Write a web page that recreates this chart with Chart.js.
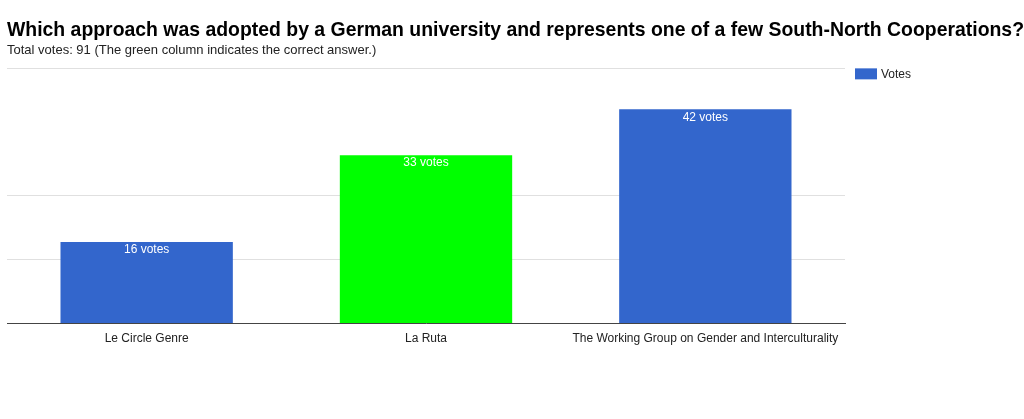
<!DOCTYPE html>
<html>
<head>
<meta charset="utf-8">
<script src="https://cdn.jsdelivr.net/npm/chart.js@4"></script>
<style>
  html, body { margin: 0; padding: 0; background: #fff; }
  canvas { display: block; }
</style>
</head>
<body>
<canvas id="grafica" width="1024" height="419"></canvas>
<script>
const categorias = ["Le Circle Genre", "La Ruta", "The Working Group on Gender and Interculturality"];
const votos = [16, 33, 42];
const colores = ["#3366cc", "#00ff00", "#3366cc"];
const serie = "Votes";
const titulo = "Which approach was adopted by a German university and represents one of a few South-North Cooperations?";
const subtitulo = "Total votes: 91 (The green column indicates the correct answer.)";

const fuente = "'Liberation Sans', Arial, sans-serif";

// etiquetas dentro de las barras + leyenda a la derecha
const extras = {
  id: "extras",
  afterDatasetsDraw(chart) {
    const ctx = chart.ctx;
    const meta = chart.getDatasetMeta(0);
    ctx.save();
    ctx.fillStyle = "#ffffff";
    ctx.font = "12px " + fuente;
    ctx.textAlign = "center";
    ctx.textBaseline = "top";
    meta.data.forEach((bar, i) => {
      ctx.fillText(votos[i] + " votes", bar.x, bar.y + 2);
    });

    // leyenda
    const area = chart.chartArea;
    const lx = area.right + 10;
    const ly = area.top;
    ctx.fillStyle = "#3366cc";
    ctx.fillRect(lx, ly, 22, 11);
    ctx.fillStyle = "#222";
    ctx.textAlign = "left";
    ctx.textBaseline = "middle";
    ctx.fillText(serie, lx + 26, ly + 6);
    ctx.restore();
  }
};

const ctx = document.getElementById("grafica").getContext("2d");
const chart = new Chart(ctx, {
  type: "bar",
  data: {
    labels: categorias,
    datasets: [{
      label: serie,
      data: votos,
      backgroundColor: colores,
      borderWidth: 0,
      categoryPercentage: 1,
      barPercentage: 0.617
    }]
  },
  options: {
    responsive: false,
    animation: false,
    layout: { padding: { left: 7, right: 0, top: 0, bottom: 73 } },
    plugins: {
      title: {
        display: true,
        text: titulo,
        align: "start",
        color: "#000",
        font: { family: fuente, size: 19.8, weight: "bold" },
        padding: { top: 19, bottom: 0 }
      },
      subtitle: {
        display: true,
        text: subtitulo,
        align: "start",
        color: "#222",
        font: { family: fuente, size: 13 },
        padding: { top: 0, bottom: 10 }
      },
      legend: { display: false },
      tooltip: { enabled: false }
    },
    scales: {
      x: {
        grid: { display: false },
        border: { display: true, color: "#444", width: 1 },
        ticks: { color: "#222", font: { family: fuente, size: 12 }, padding: 0, maxRotation: 0 }
      },
      y: {
        min: 0,
        max: 50,
        ticks: { display: false, stepSize: 12.5 },
        border: { display: false },
        grid: {
          drawTicks: false,
          color: (c) => c.tick && c.tick.value === 37.5 ? "rgba(0,0,0,0)" : "#e0e0e0"
        }
      },
      // hueco para la leyenda
      hueco: {
        type: "linear",
        position: "right",
        ticks: { display: false },
        grid: { display: false },
        border: { display: false },
        afterFit: (scale) => { scale.width = 179; }
      }
    }
  },
  plugins: [extras]
});
</script>
</body>
</html>
